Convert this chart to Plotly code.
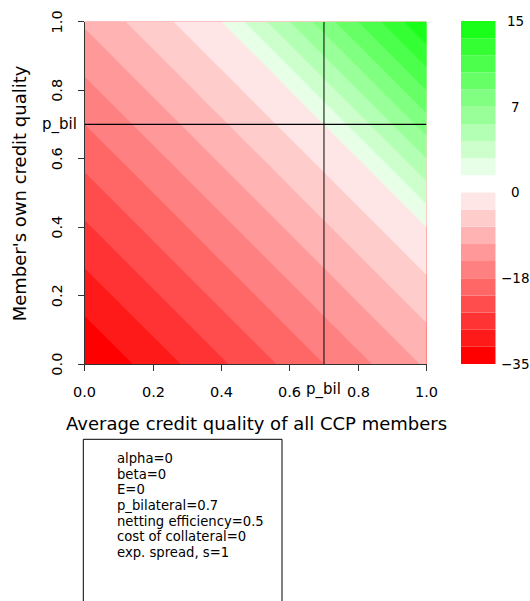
import plotly.graph_objects as go

W, H = 530, 601

# ---------------- data ----------------
x_grid = [0.0, 0.2, 0.4, 0.6, 0.8, 1.0]          # average credit quality of all CCP members
y_grid = [0.0, 0.2, 0.4, 0.6, 0.8, 1.0]          # member's own credit quality
z_vals = [                                       # rows = y_grid, cols = x_grid
    [-35, -30, -25, -20, -15, -10],
    [-30, -25, -20, -15, -10,  -5],
    [-25, -20, -15, -10,  -5,   0],
    [-20, -15, -10,  -5,   0,   5],
    [-15, -10,  -5,   0,   5,  10],
    [-10,  -5,   0,   5,  10,  15],
]
red_levels = [-35, -31.5, -28, -24.5, -21, -17.5, -14, -10.5, -7, -3.5, 0]
green_levels = [0, 1.6667, 3.3333, 5, 6.6667, 8.3333, 10, 11.6667, 13.3333, 15]
red_colors = ["#FF0000", "#FF1A1A", "#FF3333", "#FF4D4D", "#FF6666",
              "#FF8080", "#FF9999", "#FFB3B3", "#FFCCCC", "#FFE6E6"]
green_colors = ["#E6FFE6", "#CCFFCC", "#B3FFB3", "#99FF99", "#80FF80",
                "#66FF66", "#4DFF4D", "#33FF33", "#1AFF1A"]
x_ticks = [0.0, 0.2, 0.4, 0.6, 0.8, 1.0]
x_ticklabels = ["0.0", "0.2", "0.4", "0.6", "0.8", "1.0"]
y_ticks = [0.0, 0.2, 0.4, 0.6, 0.8, 1.0]
y_ticklabels = ["0.0", "0.2", "0.4", "0.6", "0.8", "1.0"]
p_bil = 0.7
p_bil_label = "p_bil"
cb_tick_labels = ["\u221235", "\u221218", "0", "7", "15"]
x_title = "Average credit quality of all CCP members"
y_title = "Member's own credit quality"
legend_lines = ["alpha=0", "beta=0", "E=0", "p_bilateral=0.7",
                "netting efficiency=0.5", "cost of collateral=0", "exp. spread, s=1"]

FONT = "DejaVu Sans, Verdana, sans-serif"


def px_x(p):
    return p / W


def px_y(p):
    return 1 - p / H


def discrete_scale(colors):
    n = len(colors) - 1
    scale = []
    for k, c in enumerate(colors):
        lo = max(0.0, (k - 0.5) / n)
        hi = min(1.0, (k + 0.5) / n)
        scale.append([lo, c])
        scale.append([hi, c])
    return scale


def font(size):
    return dict(family=FONT, size=size, color="black")


fig = go.Figure()

# red part of the surface
r_levels = red_levels[1:]
r_size = red_levels[1] - red_levels[0]
fig.add_trace(go.Contour(
    x=x_grid, y=y_grid, z=z_vals,
    autocontour=False,
    contours=dict(start=r_levels[0], end=r_levels[-1] + r_size / 2, size=r_size,
                  coloring="fill", showlines=False),
    colorscale=discrete_scale(red_colors + [red_colors[-1]]),
    line=dict(width=0), showscale=False, hoverinfo="skip",
))

# green part of the surface (transparent below 0)
g_levels = green_levels[:-1]
g_size = (green_levels[-1] - green_levels[0]) / (len(green_levels) - 1)
fig.add_trace(go.Contour(
    x=x_grid, y=y_grid, z=z_vals,
    autocontour=False,
    contours=dict(start=g_levels[0], end=g_levels[-1] + g_size / 2, size=g_size,
                  coloring="fill", showlines=False),
    colorscale=discrete_scale(["rgba(255,255,255,0)"] + green_colors),
    line=dict(width=0), showscale=False, hoverinfo="skip",
))

# p_bil lines
fig.add_shape(type="line", xref="x", yref="y", x0=p_bil, x1=p_bil, y0=0, y1=1,
              line=dict(color="rgba(0,0,0,0.7)", width=1.4))
fig.add_shape(type="line", xref="x", yref="y", x0=0, x1=1, y0=p_bil, y1=p_bil,
              line=dict(color="black", width=1.2))

# custom colour key (bars on a second axis, in "block" units)
n_red = len(red_colors)
fig.add_trace(go.Bar(
    x=[0.5] * n_red, y=[1] * n_red, base=list(range(n_red)), width=1,
    marker=dict(color=red_colors, line=dict(width=0)),
    xaxis="x2", yaxis="y2", hoverinfo="skip", showlegend=False,
))
n_green = len(green_colors)
fig.add_trace(go.Bar(
    x=[0.5] * n_green, y=[1] * n_green, base=[n_red + 1 + i for i in range(n_green)], width=1,
    marker=dict(color=green_colors, line=dict(width=0)),
    xaxis="x2", yaxis="y2", hoverinfo="skip", showlegend=False,
))
cb_top = n_red + 1 + n_green
cb_pos = [0, cb_top / 4, cb_top / 2, 3 * cb_top / 4, cb_top]

annotations = []
for pos, lab in zip(cb_pos, cb_tick_labels):
    annotations.append(dict(xref="paper", yref="y2", x=px_x(515), y=pos, text=lab,
                            showarrow=False, xanchor="center", yanchor="middle",
                            font=font(13.5)))

# axis tick labels (R style: y labels parallel to the axis)
for v, lab in zip(x_ticks, x_ticklabels):
    annotations.append(dict(xref="x", yref="paper", x=v, y=px_y(392.3), text=lab,
                            showarrow=False, xanchor="center", yanchor="middle",
                            font=font(14.5)))
for v, lab in zip(y_ticks, y_ticklabels):
    annotations.append(dict(xref="paper", yref="y", x=px_x(56.7), y=v, text=lab,
                            showarrow=False, xanchor="center", yanchor="middle",
                            textangle=-90, font=font(14.5)))

# p_bil labels on the axes
annotations.append(dict(xref="x", yref="paper", x=p_bil, y=px_y(389.5), text=p_bil_label,
                        showarrow=False, xanchor="center", yanchor="middle",
                        font=font(15)))
annotations.append(dict(xref="paper", yref="y", x=px_x(78.5), y=p_bil, text=p_bil_label,
                        showarrow=False, xanchor="right", yanchor="middle",
                        font=font(15)))

# axis titles
annotations.append(dict(xref="paper", yref="paper", x=px_x(256), y=px_y(423.8), text=x_title,
                        showarrow=False, xanchor="center", yanchor="middle",
                        font=font(18)))
annotations.append(dict(xref="paper", yref="paper", x=px_x(20.3), y=px_y(193), text=y_title,
                        showarrow=False, xanchor="center", yanchor="middle", textangle=-90,
                        font=font(18)))

# legend-like text box
for i, line in enumerate(legend_lines):
    annotations.append(dict(xref="paper", yref="paper", x=px_x(115), y=px_y(458.8 + i * 15.56),
                            text=line, showarrow=False, xanchor="left", yanchor="middle",
                            font=font(13.2)))
fig.add_shape(type="rect", xref="paper", yref="paper",
              x0=px_x(83.3), x1=px_x(282), y0=-0.05, y1=px_y(439.3),
              line=dict(color="black", width=1), fillcolor="rgba(0,0,0,0)")

fig.update_layout(
    width=W, height=H, autosize=False,
    margin=dict(l=0, r=0, t=0, b=0, pad=0),
    paper_bgcolor="white", plot_bgcolor="white",
    showlegend=False, barmode="overlay",
    xaxis=dict(domain=[px_x(84.7), px_x(426.5)], range=[0, 1],
               tickmode="array", tickvals=x_ticks, showticklabels=False,
               ticks="outside", ticklen=6, tickcolor="#333", tickwidth=1,
               showline=True, linecolor="#333", linewidth=1,
               showgrid=False, zeroline=False),
    yaxis=dict(domain=[px_y(364), px_y(21.7)], range=[0, 1],
               tickmode="array", tickvals=y_ticks, showticklabels=False,
               ticks="outside", ticklen=6, tickcolor="#333", tickwidth=1,
               showline=True, linecolor="#333", linewidth=1,
               showgrid=False, zeroline=False),
    xaxis2=dict(domain=[px_x(461), px_x(495.7)], range=[0, 1], anchor="y2",
                visible=False, fixedrange=True),
    yaxis2=dict(domain=[px_y(364), px_y(21)], range=[0, cb_top], anchor="x2",
                visible=False, fixedrange=True),
    annotations=annotations,
)

fig.write_html("out.html", post_script="document.body.style.margin='0';")
